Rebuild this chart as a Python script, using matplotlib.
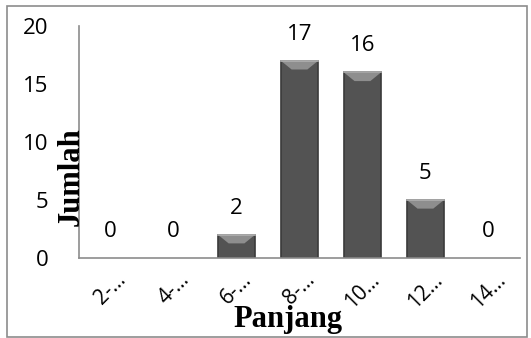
import numpy as np
import matplotlib.pyplot as plt
from matplotlib.patches import Polygon, Rectangle

# data
kategori = ['2-…', '4-…', '6-…', '8-…', '10…', '12…', '14…']
jumlah = [0, 0, 2, 17, 16, 5, 0]

fig = plt.figure(figsize=(5.31, 3.38), dpi=100)
ax = fig.add_axes([0.149, 0.237, 0.830, 0.686])

x = np.arange(len(kategori))
lebar = 0.59
tinggi = [v if v > 0 else np.nan for v in jumlah]
ax.bar(x, tinggi, width=lebar, color='#535353', edgecolor='#3a3a3a', linewidth=1.2, zorder=2)

# bevel di atas batang
dh = 0.75
dx = 0.17
for xi, v in zip(x, jumlah):
    if v <= 0:
        continue
    p = Polygon([(xi - lebar / 2, v), (xi + lebar / 2, v),
                 (xi + lebar / 2 - dx, v - dh), (xi - lebar / 2 + dx, v - dh)],
                closed=True, facecolor='#8e8e8e', edgecolor='none', zorder=3)
    ax.add_patch(p)
    ax.plot([xi - lebar / 2, xi + lebar / 2], [v, v], color='#b0b0b0', lw=1.2, zorder=4)

for xi, v in zip(x, jumlah):
    ax.text(xi, v + 2.3, str(v), ha='center', va='center', fontsize=16,
            family='Open Sans', color='black')

ax.set_xlim(-0.5, len(kategori) - 0.5)
ax.set_ylim(0, 20)
ax.set_yticks([0, 5, 10, 15, 20])
ax.set_xticks(x)
ax.set_xticklabels(kategori, rotation=45, ha='center', fontsize=15, family='Open Sans')
for t in ax.get_yticklabels():
    t.set_fontsize(16)
    t.set_family('Open Sans')
ax.tick_params(axis='both', length=0)
ax.tick_params(axis='y', pad=22)
ax.tick_params(axis='x', pad=8)

for s in ['top', 'right']:
    ax.spines[s].set_visible(False)
ax.spines['left'].set_color('#8c8c8c')
ax.spines['bottom'].set_color('#8c8c8c')
ax.spines['left'].set_linewidth(1.2)
ax.spines['bottom'].set_linewidth(1.2)

fig.text(0.134, 0.476, 'Jumlah', rotation=90, ha='center', va='center',
         fontsize=22, fontweight='bold', family='Liberation Serif')
fig.text(0.542, 0.055, 'Panjang', ha='center', va='center',
         fontsize=22, fontweight='bold', family='Liberation Serif')

fig.patches.append(Rectangle((0.014, 0.003), 0.978, 0.98, transform=fig.transFigure,
                             fill=False, edgecolor='#8c8c8c', linewidth=1.2))

fig.savefig('out.png', dpi=100)
